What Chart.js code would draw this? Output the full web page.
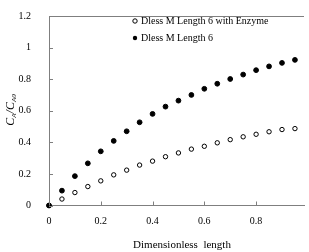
<!DOCTYPE html>
<html>
<head>
<meta charset="utf-8">
<script src="https://cdn.jsdelivr.net/npm/chart.js@4"></script>
<style>
  html, body { margin: 0; padding: 0; background: #fff; }
  #wrap { width: 309px; height: 252px; }
</style>
</head>
<body>
<div id="wrap"><canvas id="chart" width="309" height="252"></canvas></div>
<script>
// dimensionless length positions
var lengths = [0, 0.05, 0.1, 0.15, 0.2, 0.25, 0.3, 0.35, 0.4, 0.45, 0.5, 0.55, 0.6, 0.65, 0.7, 0.75, 0.8, 0.85, 0.9, 0.95];
var withEnzyme = [0, 0.041, 0.082, 0.12, 0.156, 0.194, 0.224, 0.256, 0.281, 0.309, 0.333, 0.357, 0.375, 0.397, 0.417, 0.435, 0.451, 0.467, 0.481, 0.487];
var noEnzyme = [0, 0.094, 0.186, 0.267, 0.343, 0.409, 0.47, 0.527, 0.58, 0.626, 0.664, 0.70, 0.739, 0.771, 0.801, 0.829, 0.857, 0.881, 0.903, 0.922];
var seriesNames = ['Dless M Length 6 with Enzyme', 'Dless M Length 6'];
var xTicks = [0, 0.2, 0.4, 0.6, 0.8];
var yTicks = [0, 0.2, 0.4, 0.6, 0.8, 1, 1.2];

var serif = '"Liberation Serif", "Times New Roman", serif';
var axisColor = '#7f7f7f';

function pts(ys) {
  return lengths.map(function (x, i) { return { x: x, y: ys[i] }; });
}

// titles, inward ticks, top border and legend
var extras = {
  id: 'extras',
  afterDraw: function (chart) {
    var c = chart.ctx, a = chart.chartArea;
    var xs = chart.scales.x, ys = chart.scales.y;
    c.save();
    c.strokeStyle = axisColor;
    c.lineWidth = 1;
    c.beginPath();
    c.moveTo(a.left, a.top + 0.5);
    c.lineTo(a.right, a.top + 0.5);
    xTicks.forEach(function (v) {
      var px = Math.round(xs.getPixelForValue(v)) + 0.5;
      c.moveTo(px, a.bottom);
      c.lineTo(px, a.bottom - 4);
    });
    yTicks.forEach(function (v) {
      var py = Math.round(ys.getPixelForValue(v)) + 0.5;
      c.moveTo(a.left, py);
      c.lineTo(a.left + 4, py);
    });
    c.stroke();

    // legend
    c.font = '10px ' + serif;
    c.fillStyle = '#000';
    c.textBaseline = 'middle';
    chart.data.datasets.forEach(function (ds, i) {
      var ly = 21 + i * 17;
      c.beginPath();
      c.arc(135, ly, 2.2, 0, Math.PI * 2);
      if (ds.backgroundColor === '#000') { c.fillStyle = '#000'; c.fill(); }
      else { c.strokeStyle = '#000'; c.stroke(); }
      c.fillStyle = '#000';
      c.textAlign = 'left';
      c.fillText(ds.label, 141, ly);
    });

    // x title
    c.font = '11px ' + serif;
    c.textAlign = 'center';
    c.textBaseline = 'middle';
    c.fillText('Dimensionless  length', 182, 245);

    // y title C_A/C_A0 rotated
    c.translate(11, 110);
    c.rotate(-Math.PI / 2);
    c.textAlign = 'left';
    var parts = [['C', 12, 0], ['A', 7, 3], ['/C', 12, 0], ['A0', 7, 3]];
    var total = 0;
    parts.forEach(function (p) { c.font = 'italic ' + p[1] + 'px ' + serif; total += c.measureText(p[0]).width; });
    var x0 = -total / 2;
    parts.forEach(function (p) {
      c.font = 'italic ' + p[1] + 'px ' + serif;
      c.fillText(p[0], x0, p[2]);
      x0 += c.measureText(p[0]).width;
    });
    c.restore();
  }
};

function plain(v) { return String(v); }

new Chart(document.getElementById('chart').getContext('2d'), {
  type: 'scatter',
  data: {
    datasets: [{
      label: seriesNames[0],
      data: pts(withEnzyme),
      backgroundColor: '#fff',
      borderColor: '#000',
      borderWidth: 1,
      pointRadius: 2.2,
      clip: false,
      order: 1
    }, {
      label: seriesNames[1],
      data: pts(noEnzyme),
      backgroundColor: '#000',
      borderColor: '#000',
      borderWidth: 1,
      pointRadius: 2.4,
      clip: false,
      order: 0
    }]
  },
  options: {
    responsive: false,
    animation: false,
    layout: { padding: { top: 4, right: 0, left: 0, bottom: 0 } },
    plugins: { legend: { display: false }, tooltip: { enabled: false } },
    scales: {
      x: {
        type: 'linear',
        min: 0,
        max: 0.985,
        afterFit: function (s) { s.height = 46.5; },
        afterBuildTicks: function (s) { s.ticks = xTicks.map(function (v) { return { value: v }; }); },
        grid: { display: false },
        border: { color: axisColor, width: 1 },
        ticks: { color: '#000', font: { family: serif, size: 10 }, padding: 2, maxRotation: 0, callback: plain }
      },
      y: {
        min: 0,
        max: 1.2,
        afterFit: function (s) { s.width = 49; },
        afterBuildTicks: function (s) { s.ticks = yTicks.map(function (v) { return { value: v }; }); },
        grid: { display: false },
        border: { color: axisColor, width: 1 },
        ticks: { color: '#000', font: { family: serif, size: 10 }, padding: 10, callback: plain }
      }
    }
  },
  plugins: [extras]
});
</script>
</body>
</html>
